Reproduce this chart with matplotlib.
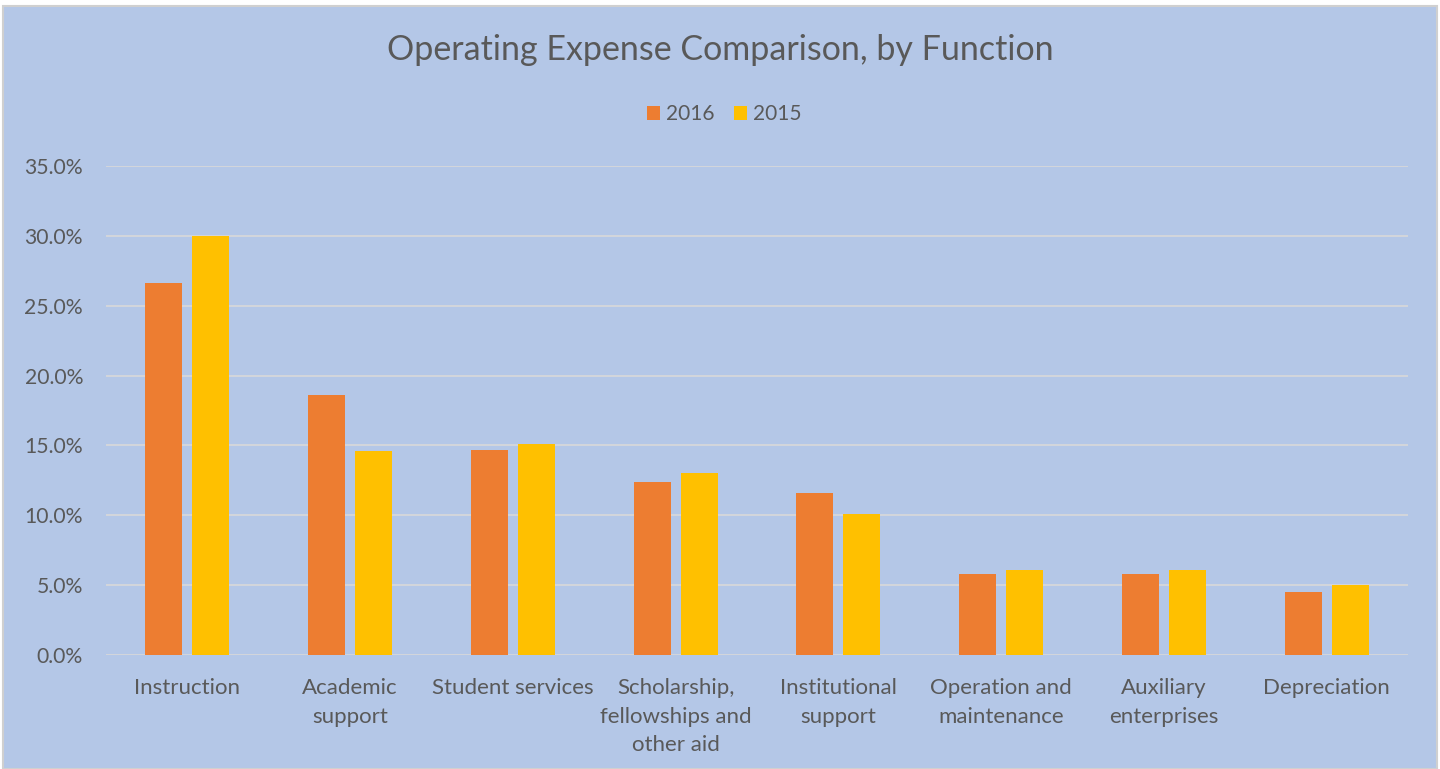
import matplotlib.pyplot as plt
import numpy as np
from matplotlib.patches import Rectangle

categories = ['Instruction', 'Academic\nsupport', 'Student services',
              'Scholarship,\nfellowships and\nother aid', 'Institutional\nsupport',
              'Operation and\nmaintenance', 'Auxiliary\nenterprises', 'Depreciation']
vals_2016 = [26.6, 18.6, 14.7, 12.4, 11.6, 5.8, 5.8, 4.5]
vals_2015 = [30.0, 14.6, 15.1, 13.0, 10.1, 6.1, 6.1, 5.0]
yticks = [0, 5, 10, 15, 20, 25, 30, 35]

plt.rcParams['font.family'] = ['Lato', 'DejaVu Sans']
TXT = '#595959'
BG = '#B4C7E7'

fig = plt.figure(figsize=(14.4, 7.69), dpi=100)
fig.patch.set_facecolor('white')
fig.patches.append(Rectangle((2.5 / 1440, 0), 1434 / 1440, 1 - 6 / 769,
                             transform=fig.transFigure, facecolor=BG,
                             edgecolor='#D0D0D0', linewidth=1.5, zorder=-10))

ax = fig.add_axes([106 / 1440, 1 - 655.3 / 769, 1302 / 1440, 489.6 / 769])
ax.set_facecolor('none')

x = np.arange(len(categories))
w = 0.227
ax.bar(x - 0.144, vals_2016, w, color='#ED7D31', label='2016', zorder=3)
ax.bar(x + 0.144, vals_2015, w, color='#FFC000', label='2015', zorder=3)

ax.set_xlim(-0.5, len(categories) - 0.5)
ax.set_ylim(0, 35)
ax.set_yticks(yticks)
ax.set_yticklabels([f'{t:.1f}%' for t in yticks])
ax.set_xticks(x)
ax.set_xticklabels(categories, linespacing=1.53, va='top')
ax.tick_params(axis='both', length=0, colors=TXT)
ax.tick_params(axis='y', pad=16.5, labelsize=15.2)
ax.tick_params(axis='x', pad=16.5, labelsize=16)
ax.grid(axis='y', color='#D9D9D9', linewidth=1.2, zorder=1)
for s in ax.spines.values():
    s.set_visible(False)

fig.text(0.5, 1 - 50 / 769, 'Operating Expense Comparison, by Function',
         ha='center', va='center', fontsize=24.5, color=TXT)
fig.legend(loc='center', bbox_to_anchor=(0.503, 1 - 114 / 769), ncol=2,
           frameon=False, fontsize=15, labelcolor=TXT, handlelength=0.65,
           handleheight=0.65, handletextpad=0.3, columnspacing=0.9)

plt.savefig('out.png', dpi=100)
